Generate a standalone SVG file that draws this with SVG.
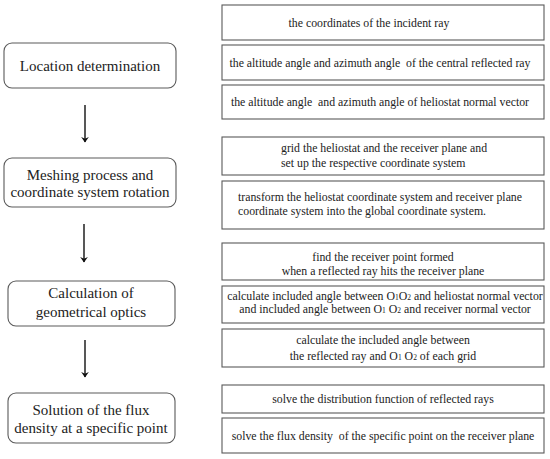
<svg xmlns="http://www.w3.org/2000/svg" width="550" height="459" viewBox="0 0 550 459">
<defs>
<style>
.n{fill:#fff;stroke:#5a5a5a;stroke-width:1.1}
.t{font-family:'Liberation Serif','DejaVu Serif',serif;fill:#222}
.l{font-size:15px;text-anchor:middle}
.r{font-size:11.8px}
.c{text-anchor:middle}
.s{font-size:7.5px}
.a{stroke:#111;stroke-width:1.4;fill:none}
</style>
<marker id="ah" viewBox="0 0 10 14" refX="9" refY="7" markerWidth="5.5" markerHeight="8" orient="auto" markerUnits="userSpaceOnUse">
<path d="M0,0 L10,7 L0,14 L3,7 Z" fill="#111"/>
</marker>
</defs>
<rect width="550" height="459" fill="#fff"/>
<g id="connectors">
<line class="a" x1="85" y1="105" x2="85" y2="142" marker-end="url(#ah)"/>
<line class="a" x1="84" y1="224" x2="84" y2="262" marker-end="url(#ah)"/>
<line class="a" x1="85" y1="340" x2="85" y2="377" marker-end="url(#ah)"/>
</g>
<g id="location">
<rect class="n" x="4" y="43" width="172" height="45" rx="8"/>
<text class="t l" x="90" y="71">Location determination</text>
</g>
<g id="meshing">
<rect class="n" x="4" y="158" width="172" height="49" rx="8"/>
<text class="t l" x="90" y="180">Meshing process and</text>
<text class="t l" x="90" y="197">coordinate system rotation</text>
</g>
<g id="calculation">
<rect class="n" x="8" y="281" width="167" height="45" rx="8"/>
<text class="t l" x="91" y="298">Calculation of</text>
<text class="t l" x="91" y="317">geometrical optics</text>
</g>
<g id="solution">
<rect class="n" x="8" y="393" width="167" height="50" rx="8"/>
<text class="t l" x="91" y="415">Solution of the flux</text>
<text class="t l" x="91" y="433">density at a specific point</text>
</g>
<g id="r1">
<rect class="n" x="222" y="5" width="322" height="35"/>
<text class="t r c" x="369" y="26.5">the coordinates of the incident ray</text>
</g>
<g id="r2">
<rect class="n" x="222" y="45" width="322" height="35"/>
<text class="t r c" x="380" y="66.5" xml:space="preserve">the altitude angle and azimuth angle  of the central reflected ray</text>
</g>
<g id="r3">
<rect class="n" x="222" y="85" width="322" height="34"/>
<text class="t r c" x="380" y="106" xml:space="preserve">the altitude angle  and azimuth angle of heliostat normal vector</text>
</g>
<g id="r4">
<rect class="n" x="222" y="137" width="322" height="38"/>
<text class="t r" x="281" y="152">grid the heliostat and the receiver plane and</text>
<text class="t r" x="281" y="167">set up the respective coordinate system</text>
</g>
<g id="r5">
<rect class="n" x="222" y="181" width="322" height="48"/>
<text class="t r" x="238" y="201">transform the heliostat coordinate system and receiver plane</text>
<text class="t r" x="238" y="215">coordinate system into the global coordinate system.</text>
</g>
<g id="r6">
<rect class="n" x="222" y="243" width="322" height="37"/>
<text class="t r c" x="383" y="261">find the receiver point formed</text>
<text class="t r c" x="383" y="275">when a reflected ray hits the receiver plane</text>
</g>
<g id="r7">
<rect class="n" x="222" y="286" width="322" height="37"/>
<text class="t r c" x="385" y="300">calculate included angle between O<tspan class="s">1</tspan>O<tspan class="s">2</tspan> and heliostat normal vector</text>
<text class="t r c" x="385" y="313">and included angle between O<tspan class="s">1</tspan> O<tspan class="s">2</tspan> and receiver normal vector</text>
</g>
<g id="r8">
<rect class="n" x="222" y="329" width="322" height="38"/>
<text class="t r c" x="383" y="344">calculate the included angle between</text>
<text class="t r c" x="383" y="360">the reflected ray and O<tspan class="s">1</tspan> O<tspan class="s">2</tspan> of each grid</text>
</g>
<g id="r9">
<rect class="n" x="222" y="385" width="322" height="28"/>
<text class="t r c" x="383" y="403">solve the distribution function of reflected rays</text>
</g>
<g id="r10">
<rect class="n" x="222" y="418" width="322" height="35"/>
<text class="t r c" x="383" y="440" xml:space="preserve">solve the flux density  of the specific point on the receiver plane</text>
</g>
</svg>
